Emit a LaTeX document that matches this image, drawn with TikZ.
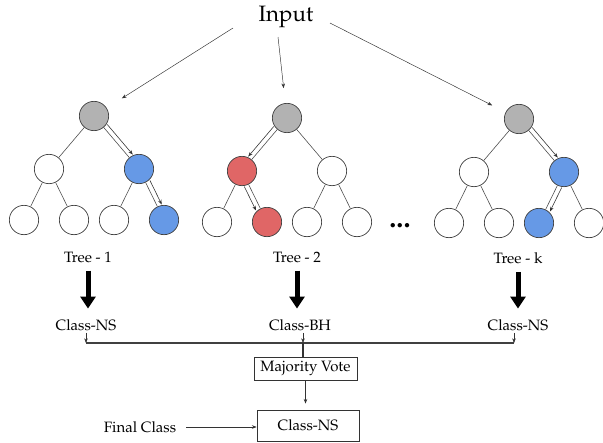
\documentclass[tikz,border=0pt]{standalone}
\usepackage[T1]{fontenc}
\usepackage{mathpazo}
\usetikzlibrary{positioning, arrows.meta}

\definecolor{rootgray}{RGB}{178,178,178}
\definecolor{voteblue}{RGB}{102,153,230}
\definecolor{votered}{RGB}{224,102,102}

\tikzset{
  leaf/.style={circle, draw=black!75, line width=0.6pt, fill=white, minimum size=0.88cm, inner sep=0pt},
  rootleaf/.style={leaf, fill=rootgray},
  blueleaf/.style={leaf, fill=voteblue},
  redleaf/.style={leaf, fill=votered},
  branch/.style={draw=black!70, line width=0.5pt},
  pick/.style={->, draw=black!80, line width=0.5pt, transform canvas={shift={#1}}},
  txt/.style={inner sep=0pt, font=\fontsize{12.8}{15}\selectfont},
  bigarrow/.style={line width=0.15cm, -{Triangle[width=0.45cm,length=0.36cm]}},
  box/.style={draw=black!80, line width=0.6pt, font=\fontsize{12.8}{15}\selectfont},
}

\begin{document}
\begin{tikzpicture}[x=0.03cm, y=-0.03cm, >={Stealth[length=4pt,width=3pt]}, on grid]
\useasboundingbox (0,0) rectangle (603,443);

\node[inner sep=0pt, font=\fontsize{19}{22}\selectfont] (inp) at (286,17) {Input};

% tree 1
\node[rootleaf] (r1) at (94,116) {};
\node[leaf] (a1) [below left=1.59cm and 1.35cm of r1] {};
\node[blueleaf] (b1) [below right=1.59cm and 1.35cm of r1] {};
\node[leaf] (l1a) [below left=1.53cm and 0.75cm of a1] {};
\node[leaf] (l1b) [below right=1.53cm and 0.75cm of a1] {};
\node[leaf] (l1c) [below left=1.53cm and 0.75cm of b1] {};
\node[blueleaf] (l1d) [below right=1.53cm and 0.75cm of b1] {};

% tree 2
\node[rootleaf] (r2) at (287,118) {};
\node[redleaf] (a2) [below left=1.59cm and 1.35cm of r2] {};
\node[leaf] (b2) [below right=1.59cm and 1.35cm of r2] {};
\node[leaf] (l2a) [below left=1.53cm and 0.75cm of a2] {};
\node[redleaf] (l2b) [below right=1.53cm and 0.75cm of a2] {};
\node[leaf] (l2c) [below left=1.53cm and 0.75cm of b2] {};
\node[leaf] (l2d) [below right=1.53cm and 0.75cm of b2] {};

% tree k
\node[rootleaf] (rk) at (519,119) {};
\node[leaf] (ak) [below left=1.59cm and 1.35cm of rk] {};
\node[blueleaf] (bk) [below right=1.59cm and 1.35cm of rk] {};
\node[leaf] (lka) [below left=1.53cm and 0.75cm of ak] {};
\node[leaf] (lkb) [below right=1.53cm and 0.75cm of ak] {};
\node[blueleaf] (lkc) [below left=1.53cm and 0.75cm of bk] {};
\node[leaf] (lkd) [below right=1.53cm and 0.75cm of bk] {};

\node[font=\bfseries\fontsize{24}{24}\selectfont] (dots) at (400,226) {...};

\foreach \p/\c in {r1/a1, r1/b1, a1/l1a, a1/l1b, b1/l1c, b1/l1d,
                   r2/a2, r2/b2, a2/l2a, a2/l2b, b2/l2c, b2/l2d,
                   rk/ak, rk/bk, ak/lka, ak/lkb, bk/lkc, bk/lkd}
  \draw[branch] (\p) -- (\c);

% decision paths
\draw[pick={(0.105cm,0.09cm)}] (r1) -- (b1);
\draw[pick={(0.13cm,0.06cm)}] (b1) -- (l1d);
\draw[pick={(-0.105cm,0.09cm)}] (r2) -- (a2);
\draw[pick={(-0.13cm,-0.06cm)}] (a2) -- (l2b);
\draw[pick={(0.105cm,0.09cm)}] (rk) -- (bk);
\draw[pick={(0.13cm,-0.06cm)}] (bk) -- (lkc);

% input to trees
\draw[->, draw=black!80, shorten >=0.54cm] ([shift={(-53,11)}]inp.center) -- (r1);
\draw[->, draw=black!80, shorten >=0.45cm] ([shift={(-8,20)}]inp.center) -- (r2);
\draw[->, draw=black!80, shorten >=0.45cm] ([shift={(44,6)}]inp.center) -- (rk);

\node[txt] (t1) at (88,257) {Tree - 1};
\node[txt] (t2) at (297,257) {Tree - 2};
\node[txt] (tk) at (518,258) {Tree - k};

\node[txt] (c1) at (86,325) {Class-NS};
\node[txt] (c2) at (300,325) {Class-BH};
\node[txt] (ck) at (518,325) {Class-NS};

\foreach \t/\c in {t1/c1, t2/c2, tk/ck}
  \draw[bigarrow, shorten <=0.24cm, shorten >=0.32cm] (\t.south) -- (\t.south |- \c.north);

\coordinate (j1) at (86,343);
\coordinate (j2) at (303,343);
\coordinate (jk) at (514,343);
\draw[draw=black!75, line width=1.3pt] (j1) -- (jk);
\foreach \c/\j in {c1/j1, c2/j2, ck/jk}
  \draw[->, draw=black!80, line width=0.4pt, shorten <=0.06cm] (\c.south -| \j) -- (\j);

\node[box, minimum width=3.09cm, minimum height=0.69cm] (vote) at (305.5,368.5) {Majority Vote};
\draw[draw=black!80, line width=1.6pt] (j2) -- (j2 |- vote.north);

\node[box, minimum width=3.06cm, minimum height=0.93cm] (res) at (308,425.5) {Class-NS};
\draw[->, draw=black!80, line width=0.5pt, shorten >=0.18cm] (vote.south) -- (vote.south |- res.north);

\node[txt] (fc) at (140,427) {Final Class};
\draw[->, draw=black!80, line width=0.5pt, shorten <=0.3cm] (fc.east) -- (fc.east -| res.west);

\end{tikzpicture}
\end{document}
